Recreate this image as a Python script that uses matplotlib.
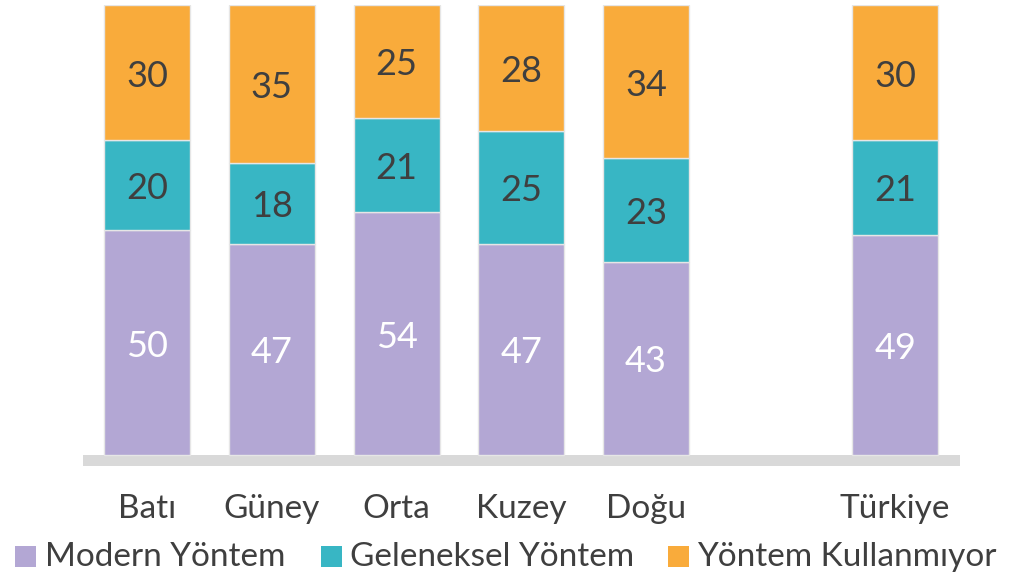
import matplotlib
matplotlib.use("Agg")
import matplotlib.pyplot as plt
from matplotlib.patches import Rectangle
import numpy as np

categories = ["Batı", "Güney", "Orta", "Kuzey", "Doğu", "", "Türkiye"]
modern = [50, 47, 54, 47, 43, None, 49]
geleneksel = [20, 18, 21, 25, 23, None, 21]
kullanmiyor = [30, 35, 25, 28, 34, None, 30]
series_names = ["Modern Yöntem", "Geleneksel Yöntem", "Yöntem Kullanmıyor"]
colors = ["#B3A7D4", "#38B6C4", "#F9AB3B"]
text_colors = ["white", "#3F3F3F", "#3F3F3F"]

plt.rcParams['font.family'] = ['Lato', 'DejaVu Sans']

fig = plt.figure(figsize=(10.18, 5.76), dpi=100)
ax = fig.add_axes([83/1018, (576-466)/576, (960-83)/1018, (466-5)/576])

x = np.arange(len(categories))
ybottom = -11/4.5
ax.set_xlim(-0.515, 6.52)
ax.set_ylim(ybottom, 100)
ax.axhspan(ybottom, 0, color="#D9D9D9", lw=0)

bottoms = np.zeros(len(categories))
for vals, col, tcol in zip([modern, geleneksel, kullanmiyor], colors, text_colors):
    for i, v in enumerate(vals):
        if v is None:
            continue
        ax.bar(x[i], v, bottom=bottoms[i], width=0.69, color=col,
               edgecolor="#E6E6E6", linewidth=1.0)
        ax.text(x[i], bottoms[i] + v / 2 - 0.8, f"{v}", ha="center", va="center",
                fontsize=26, color=tcol)
        bottoms[i] += v

for s in ax.spines.values():
    s.set_visible(False)
ax.set_yticks([])
ax.set_xticks(x)
ax.set_xticklabels(categories, fontsize=24, color="#3F3F3F")
ax.tick_params(axis="x", length=0, pad=20)

# Legend
leg_items = [(15, 45), (321, 350), (668, 697)]
for (sx, tx), name, col in zip(leg_items, series_names, colors):
    fig.patches.append(Rectangle((sx/1018, (576-567)/576), 21/1018, 21/576,
                                 transform=fig.transFigure, color=col, lw=0))
    fig.text(tx/1018, (576-557)/576, name, ha="left", va="center",
             fontsize=24, color="#3F3F3F")

fig.savefig("out.png", dpi=100)
